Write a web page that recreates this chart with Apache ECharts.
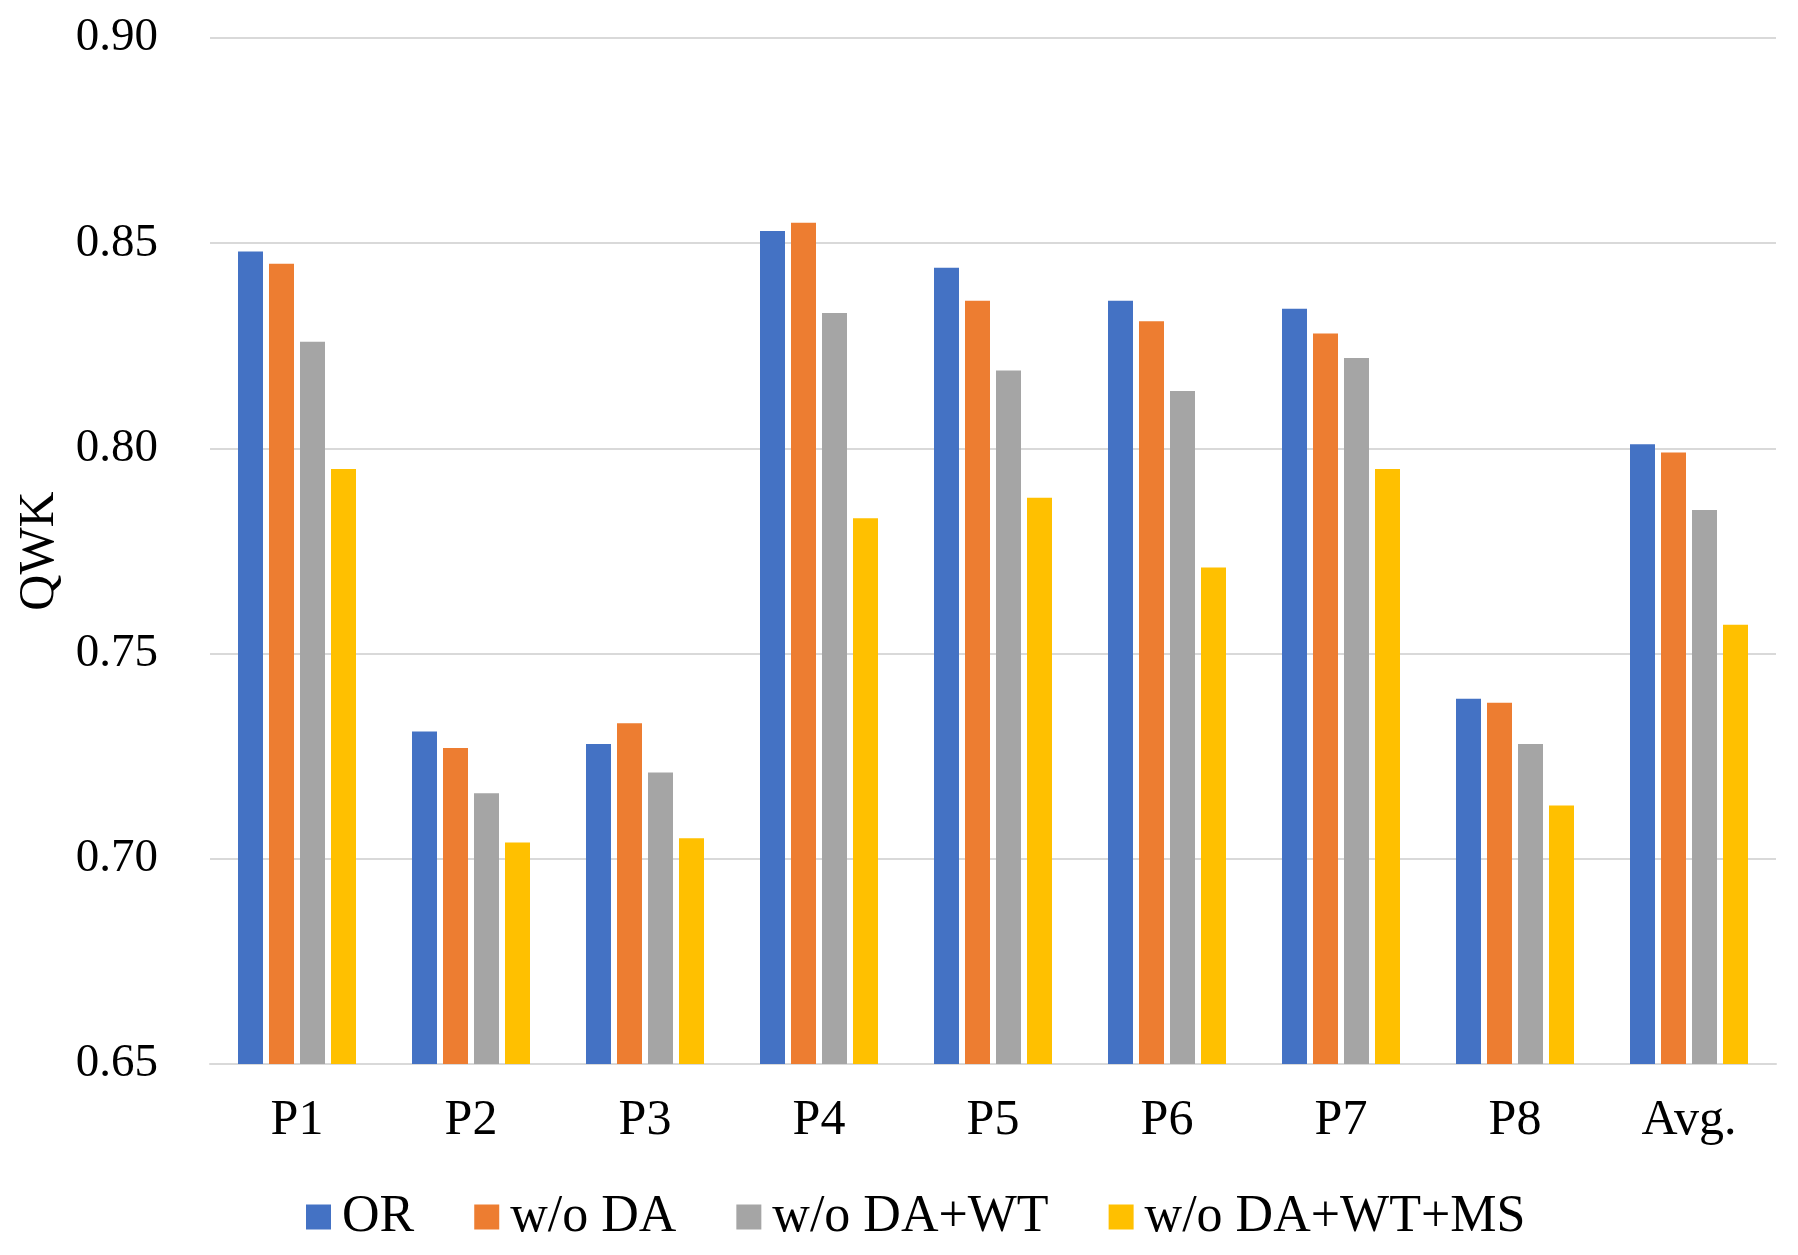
<!DOCTYPE html>
<html>
<head>
<meta charset="utf-8">
<script src="https://cdn.jsdelivr.net/npm/echarts@6/dist/echarts.min.js"></script>
<style>
html,body{margin:0;padding:0;background:#fff;}
#chart{width:1798px;height:1255px;}
</style>
</head>
<body>
<div id="chart"></div>
<script>
const categories = ['P1','P2','P3','P4','P5','P6','P7','P8','Avg.'];
const seriesNames = ['OR','w/o DA','w/o DA+WT','w/o DA+WT+MS'];
const orValues   = [0.848, 0.731, 0.728, 0.853, 0.844, 0.836, 0.834, 0.739, 0.801];
const woDA       = [0.845, 0.727, 0.733, 0.855, 0.836, 0.831, 0.828, 0.738, 0.799];
const woDAWT     = [0.826, 0.716, 0.721, 0.833, 0.819, 0.814, 0.822, 0.728, 0.785];
const woDAWTMS   = [0.795, 0.704, 0.705, 0.783, 0.788, 0.771, 0.795, 0.713, 0.757];
const yTicks = [0.65, 0.70, 0.75, 0.80, 0.85, 0.90];

const colors = ['#4472C4','#ED7D31','#A5A5A5','#FFC000'];
const font = "'Liberation Serif','Times New Roman',serif";
const values = [orValues, woDA, woDAWT, woDAWTMS];

const chart = echarts.init(document.getElementById('chart'));
chart.setOption({
  animation: false,
  backgroundColor: '#ffffff',
  color: colors,
  grid: {left: 210, right: 22, top: 38, bottom: 191},
  legend: {
    left: 301, top: 1186,
    icon: 'rect', itemWidth: 25, itemHeight: 25, itemGap: 60,
    textStyle: {fontFamily: font, fontSize: 52, color: '#000', padding: [0,0,0,6]},
    data: seriesNames
  },
  xAxis: {
    type: 'category',
    data: categories,
    axisLine: {lineStyle: {color: '#d9d9d9', width: 2}},
    axisTick: {show: false},
    axisLabel: {fontFamily: font, fontSize: 50, color: '#000', margin: 32}
  },
  yAxis: {
    type: 'value',
    min: yTicks[0], max: yTicks[yTicks.length-1], interval: 0.05,
    name: 'QWK', nameLocation: 'middle', nameGap: 134,
    nameTextStyle: {fontFamily: font, fontSize: 50, color: '#000'},
    axisLine: {show: false},
    axisTick: {show: false},
    splitLine: {lineStyle: {color: '#d9d9d9', width: 2}},
    axisLabel: {fontFamily: font, fontSize: 47, color: '#000', margin: 52,
      formatter: v => v.toFixed(2)}
  },
  series: seriesNames.map((n, i) => ({
    name: n, type: 'bar', data: values[i],
    barWidth: 25, barGap: '24%'
  }))
});
</script>
</body>
</html>
